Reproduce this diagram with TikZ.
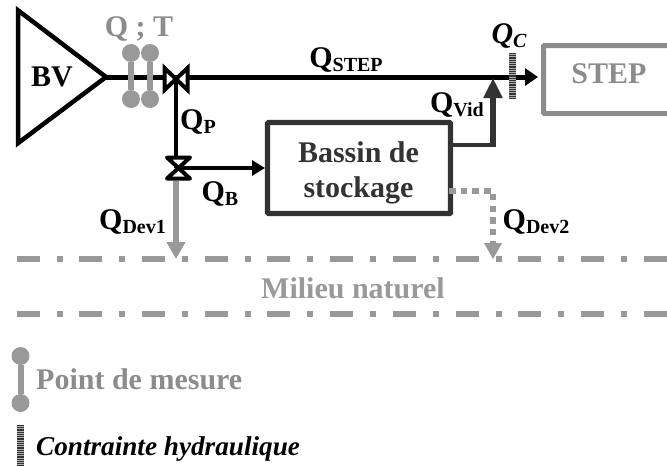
\documentclass[tikz,border=0pt]{standalone}
\usepackage{fontspec}
\setmainfont{Liberation Serif}
\usetikzlibrary{arrows.meta}
\definecolor{mgray}{HTML}{999999}
\definecolor{tgray}{HTML}{8C8C8C}
\definecolor{dk}{HTML}{333333}
\newcommand{\Qs}[2]{#1\raisebox{-0.13em}{\fontsize{20}{20}\selectfont #2}}
\tikzset{
 lab/.style={inner sep=0pt,font=\fontsize{30}{32}\selectfont\bfseries,text=black},
 glab/.style={lab,text=tgray},
 pipe/.style={line width=5pt,black},
 garrow/.style={line width=6.5pt,mgray,-{Triangle[length=17pt,width=18pt]}},
 gdash/.style={line width=6pt,mgray,dash pattern=on 23pt off 17pt on 6pt off 16.7pt},
 valve/.style={line width=4pt,black,fill=white,line join=round},
 probe/.style={line width=6pt,mgray},
 dot/.style={circle,fill=mgray,minimum size=18pt,inner sep=0pt},
 hatchbar/.style={line width=7pt,dk,dash pattern=on 1pt off 0.8pt},
 bassin/.style={draw=dk,line width=5.3pt,rounded corners=1pt,minimum width=183pt,minimum height=91pt},
}
\begin{document}
\begin{tikzpicture}[x=1pt,y=-1pt]
\useasboundingbox (0,0) rectangle (667,466);
\clip (0,0) rectangle (667,466);
% coordinates
\coordinate (v1) at (176,77);
\coordinate (v2) at (178,168);
\coordinate (tip) at (106,77);
\coordinate (jv) at (493,78);
\node[bassin,inner sep=0pt] (b) at (359,168) {};
\node[lab,text=dk,align=center,font=\fontsize{30}{35}\selectfont\bfseries] (bt) at (358.5,173) {Bassin de\\stockage};
\node[draw=tgray,line width=5pt,rounded corners=1pt,minimum width=136pt,minimum height=68pt,inner sep=0pt,anchor=north west] (step) at (541,43) {};
\node[glab] (st) at (609,74) {STEP};
% main pipes
\draw[pipe] (tip) -- (v1);
\draw[pipe,-{Triangle[length=13pt,width=17pt]}] (v1) -- (538,77);
\draw[line width=4pt,black] (v1) -- (176,168);
\draw[line width=4.5pt,black,-{Triangle[length=13pt,width=15pt]}] (v2) -- (265,168);
% Q vid
\coordinate (vb) at (b.east |- 0,145);
\coordinate (vc) at (495,145);
\draw[line width=4pt,dk] (vb) -- (vc);
\draw[line width=6pt,dk,-{Triangle[length=20pt,width=18pt]}] (493,147) -- (jv);
% BV
\draw[line width=4.5pt,line join=miter,black] (18.2,10.5) -- (tip) -- (18.2,143) -- cycle;
\node[lab] (bv) at (52,77) {BV};
% valves
\draw[valve,line join=miter] (164.5,68) -- (187.5,90) -- (187.5,68) -- (164.5,90) -- cycle;
\draw[valve] (167,157.5) -- (190,157.5) -- (167,178.5) -- (190,178.5) -- cycle;
% probes
\node[dot] (p1) at (131,53) {};
\node[dot] (p2) at (131,99) {};
\node[dot] (p3) at (150,53) {};
\node[dot] (p4) at (150,99) {};
\draw[probe] (p1) -- (p2);
\draw[probe] (p3) -- (p4);
\node[glab] (qt) at (139,29) {Q ; T};
% hatch
\coordinate (h1) at (512.5,53);
\coordinate (h2) at (512.5,99);
\fill[tgray!70] (509,53) rectangle (516,99);
\draw[hatchbar] (h1) -- (h2);
% natural lines
\coordinate (n1) at (16.6,259);
\coordinate (n2) at (667,259);
\coordinate (n3) at (16.6,314);
\coordinate (n4) at (667,314);
\draw[gdash] (n1) -- (n2);
\draw[gdash] (n3) -- (n4);
% devs
\draw[garrow] (176,181) -- (176,259);
\coordinate (d1) at (449,191);
\draw[line width=5.5pt,mgray,dash pattern=on 6.5pt off 5.2pt] (d1) -- (493,191) -- (493,243);
\fill[mgray] (484,243) -- (502,243) -- (493,259) -- cycle;
% labels
\node[lab] (qstep) at (346,60) {\Qs{Q}{STEP}};
\node[lab,font=\fontsize{30}{32}\selectfont\bfseries\itshape] (qc) at (509,36) {\Qs{Q}{C}};
\node[lab] (qvid) at (457,105) {\Qs{Q}{Vid}};
\node[lab] (qp) at (198,122) {\Qs{Q}{P}};
\node[lab] (qb) at (220,194) {\Qs{Q}{B}};
\node[lab] (qd1) at (132.5,222) {\Qs{Q}{Dev1}};
\node[lab] (qd2) at (536,222) {\Qs{Q}{Dev2}};
\node[lab,text=mgray] (mil) at (353,288) {Milieu naturel};
% legend
\node[dot] (l1) at (20.5,356) {};
\node[dot] (l2) at (20.5,403) {};
\draw[probe] (l1) -- (l2);
\node[glab,anchor=west] (pm) at (36,379) {Point de mesure};
\coordinate (l3) at (20.5,425);
\coordinate (l4) at (20.5,466);
\fill[tgray!70] (17,425) rectangle (24,466);
\draw[hatchbar] (l3) -- (l4);
\node[lab,anchor=west,font=\fontsize{27.2}{30}\selectfont\bfseries\itshape] (ch) at (36,449) {Contrainte hydraulique};
\end{tikzpicture}
\end{document}
